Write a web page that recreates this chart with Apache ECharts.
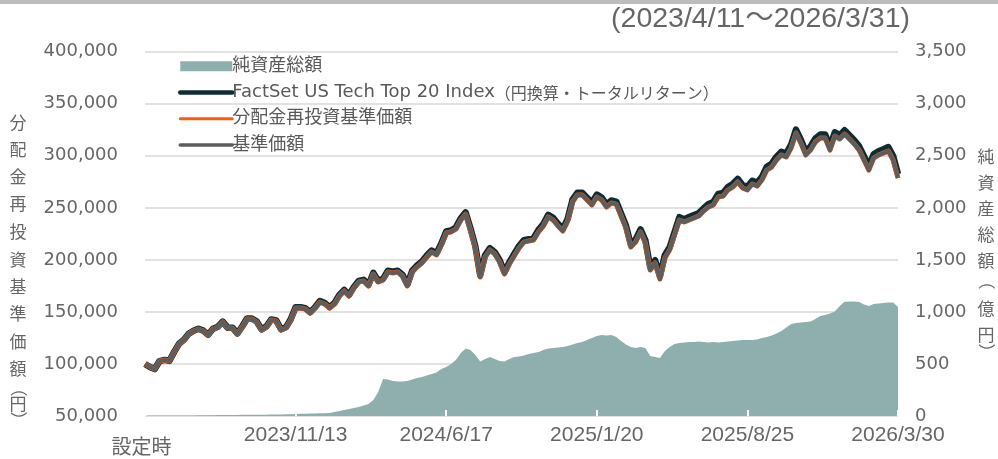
<!DOCTYPE html>
<html>
<head>
<meta charset="utf-8">
<script src="https://cdn.jsdelivr.net/npm/echarts@6/dist/echarts.min.js"></script>
<style>html,body{margin:0;padding:0;background:#fff}#c{width:998px;height:459px}</style>
</head>
<body>
<div id="c"></div>
<script>
// ---- data ----
const tickLabels = ['設定時', '2023/11/13', '2024/6/17', '2025/1/20', '2025/8/25', '2026/3/30'];
const seriesNames = ['純資産総額', 'FactSet US Tech Top 20 Index（円換算・トータルリターン）', '分配金再投資基準価額', '基準価額'];

// weekly observations: 2023/4/11, then Mondays from 2023/4/17 to 2026/3/30
const categories = ['2023/4/11'];
(function () {
  let d = Date.UTC(2023, 3, 17);
  for (let k = 0; k < 155; k++) {
    const dt = new Date(d);
    categories.push(dt.getUTCFullYear() + '/' + (dt.getUTCMonth() + 1) + '/' + dt.getUTCDate());
    d += 7 * 86400000;
  }
})();

// 分配金再投資基準価額 (円)
const navReinvest = [
100000,97100,95100,102800,103800,102800,111500,119200,123000,128800,
131700,133600,131700,127800,133600,135500,140300,134500,134500,128800,
135500,143200,143200,140300,132600,135500,142200,141300,132600,134500,
142200,153700,153700,152800,148900,153700,159500,157600,153700,157600,
165300,170100,165300,173000,178700,179700,174900,186400,178700,180600,
188300,187400,188300,184500,174900,188300,193100,197000,202700,207500,
204700,214300,225800,226800,229600,238300,244000,228700,211400,183500,
202700,209500,205600,197900,186400,196000,203700,211400,217100,218100,
219100,226800,232500,241200,238300,232500,227700,237300,255600,262300,
262300,257500,252700,260400,257500,250800,254600,253600,242100,230600,
212300,217100,226800,216200,190200,197000,181600,201800,209500,223900,
238300,236400,238300,240200,242100,246900,250800,252700,260400,261300,
267100,270000,274800,269000,267100,272900,270900,276700,286300,289200,
295900,300700,298800,307400,321900,312200,300700,305500,313200,317000,
317000,305500,319000,316100,320900,316100,311300,305500,295900,286300,
297800,300700,302600,304600,295900,278600];

// 基準価額 (円) — no distributions paid, identical to the reinvested NAV
const nav = navReinvest;

// FactSet US Tech Top 20 Index (円換算・トータルリターン)
const indexValues = [
100000,97100,95100,102800,103900,102900,111600,119300,123200,129000,
131900,133800,132000,128100,133900,135800,140700,134900,134900,129200,
136000,143700,143700,140800,133200,136100,142800,141900,133300,135200,
142900,154400,154500,153600,149700,154500,160400,158500,154600,158500,
166300,171100,166300,174000,179800,180800,176000,187500,179900,181800,
189500,188600,189600,185800,176200,189600,194500,198400,204100,208900,
206200,215800,227300,228300,231200,239900,245600,230300,213100,185200,
204400,211200,207400,199700,188200,197800,205600,213300,219000,220000,
221100,228800,234500,243200,240400,234600,229800,239400,257800,264500,
264500,259700,255000,262700,259800,253100,257000,256000,244500,233000,
214800,219600,229300,218700,192800,199600,184200,204400,212200,226600,
241000,239100,241100,243000,244900,249700,253700,255600,263300,264200,
270100,273000,277800,272000,270200,276000,274000,279800,289500,292400,
299100,303900,302100,310700,325200,315500,304100,308900,316600,320400,
320500,309000,322500,319600,324500,319700,314900,309100,299600,290000,
301500,304400,306400,308400,299700,282400];

// 純資産総額 (億円)
const netAssets = [
0,5,5,5,5,5,5,5,6,6,
6,7,7,7,8,9,9,10,10,10,
11,11,12,12,13,13,14,14,15,16,
17,19,21,22,24,25,26,27,28,38,
48,58,67,77,86,101,115,154,230,355,
350,336,331,331,336,350,365,375,389,403,
418,451,471,499,538,605,648,634,586,523,
547,567,547,528,523,547,567,571,581,596,
605,615,634,648,653,658,663,672,687,701,
711,730,749,768,778,773,778,759,720,687,
663,653,663,653,576,567,557,624,663,692,
701,706,711,711,716,711,706,711,706,711,
716,720,725,730,730,730,735,749,759,773,
792,816,850,884,893,898,903,908,932,961,
970,985,1004,1057,1098,1100,1100,1095,1071,1057,
1076,1081,1085,1090,1090,1047];

// ---- chart ----
const gray = '#666666';
const numFont = 'DejaVu Sans';
const cjkFont = 'Noto Sans CJK JP';
const fmt = v => Number(v).toLocaleString('en-US');

// [char, y, rotation]  parentheses are drawn rotated to read as vertical forms
const leftName = [['分',122.7],['配',150],['金',176.7],['再',204],['投',231.7],['資',259.3],['基',286.7],['準',314],['価',341.7],['額',368.3],['（',388,1],['円',404],['）',420,1]];
const rightName = [['純',157],['資',183],['産',209],['総',235],['額',261],['（',281,1],['億',309],['円',335],['）',352,1]];

const graphics = [
  { type: 'rect', shape: { x: 0, y: 0, width: 998, height: 4 }, style: { fill: '#bdbdbd' }, silent: true },
  { type: 'text', x: 910, y: 19, style: { text: '(2023/4/11～2026/3/31)', fill: gray, font: '28.5px "Liberation Sans", "Noto Sans CJK JP"', textAlign: 'right', textVerticalAlign: 'middle' } }
];
function addName(list, x) {
  list.forEach(([ch, y, rot]) => graphics.push({
    type: 'text', x: x, y: y, rotation: rot ? -Math.PI / 2 : 0,
    style: { text: ch, fill: gray, font: '17px "Noto Sans CJK JP"', textAlign: 'center', textVerticalAlign: 'middle' }
  }));
}
addName(leftName, 18);
addName(rightName, 986);

const chart = echarts.init(document.getElementById('c'), null, { renderer: 'canvas' });
chart.setOption({
  animation: false,
  backgroundColor: '#fff',
  textStyle: { fontFamily: numFont },
  grid: { left: 145, right: 100, top: 51.7, bottom: 43, containLabel: false },
  legend: {
    orient: 'vertical', left: 173, top: 48, itemWidth: 52, itemHeight: 10, itemGap: 0,
    textStyle: {
      color: '#595959', fontSize: 18, fontFamily: numFont + ', ' + cjkFont, lineHeight: 26.3, padding: [0, 0, 0, -5],
      rich: { j: { fontSize: 16, fontFamily: cjkFont, color: '#595959', lineHeight: 26.3 } }
    },
    formatter: name => {
      const p = name.indexOf('（');
      return p > 0 ? name.slice(0, p) + '{j|' + name.slice(p) + '}' : name;
    },
    selectedMode: false,
    data: [
      { name: seriesNames[0], icon: 'rect', itemStyle: { color: '#8fafaf' } },
      { name: seriesNames[1], itemStyle: { opacity: 0 }, lineStyle: { width: 4.5, cap: 'round', color: '#0b2d33' } },
      { name: seriesNames[2], itemStyle: { opacity: 0 }, lineStyle: { width: 3, cap: 'round', color: '#ff5a0f' } },
      { name: seriesNames[3], itemStyle: { opacity: 0 }, lineStyle: { width: 3.5, cap: 'round', color: '#5d5d5d' } }
    ]
  },
  xAxis: {
    type: 'category', data: categories, boundaryGap: false, z: 10,
    axisLine: { show: false },
    axisTick: { show: true, interval: 30, inside: true, length: 6, lineStyle: { color: '#ffffff', width: 2 } },
    axisLabel: {
      interval: 30, margin: 9, color: gray, fontSize: 21, fontFamily: 'Liberation Sans',
      formatter: (v, i) => i === 0 ? '{a|' + tickLabels[0] + '}' : tickLabels[Math.round(i / 31)],
      rich: { a: { fontSize: 20, fontFamily: cjkFont, color: gray, padding: [11, 7, 0, 0] } }
    },
    splitLine: { show: false }
  },
  yAxis: [
    {
      type: 'value', min: 50000, max: 400000, interval: 50000, position: 'left',
      axisLine: { show: false }, axisTick: { show: false },
      axisLabel: { margin: 27, color: gray, fontSize: 18, fontFamily: numFont, formatter: fmt },
      splitLine: { show: true, lineStyle: { color: '#d9d9d9', width: 1.5 } }
    },
    {
      type: 'value', min: 0, max: 3500, interval: 500, position: 'right',
      axisLine: { show: false }, axisTick: { show: false },
      axisLabel: { margin: 17, color: gray, fontSize: 18, fontFamily: numFont, formatter: fmt },
      splitLine: { show: false }
    }
  ],
  series: [
    { name: seriesNames[0], type: 'line', yAxisIndex: 1, data: netAssets, symbol: 'none', showSymbol: false,
      color: '#8fafaf', lineStyle: { width: 0, color: '#8fafaf' }, areaStyle: { color: '#8fafaf', opacity: 1 } },
    { name: seriesNames[1], type: 'line', yAxisIndex: 0, data: indexValues, symbol: 'none', showSymbol: false,
      color: '#0b2d33', lineStyle: { width: 6.5, color: '#0b2d33', join: 'round' } },
    { name: seriesNames[2], type: 'line', yAxisIndex: 0, data: navReinvest, symbol: 'none', showSymbol: false,
      color: '#ff5a0f', lineStyle: { width: 5, color: '#ff5a0f', join: 'round' } },
    { name: seriesNames[3], type: 'line', yAxisIndex: 0, data: nav, symbol: 'none', showSymbol: false,
      color: '#5d5d5d', lineStyle: { width: 4.2, color: '#5d5d5d', join: 'round' } }
  ],
  graphic: graphics
});
</script>
</body>
</html>
